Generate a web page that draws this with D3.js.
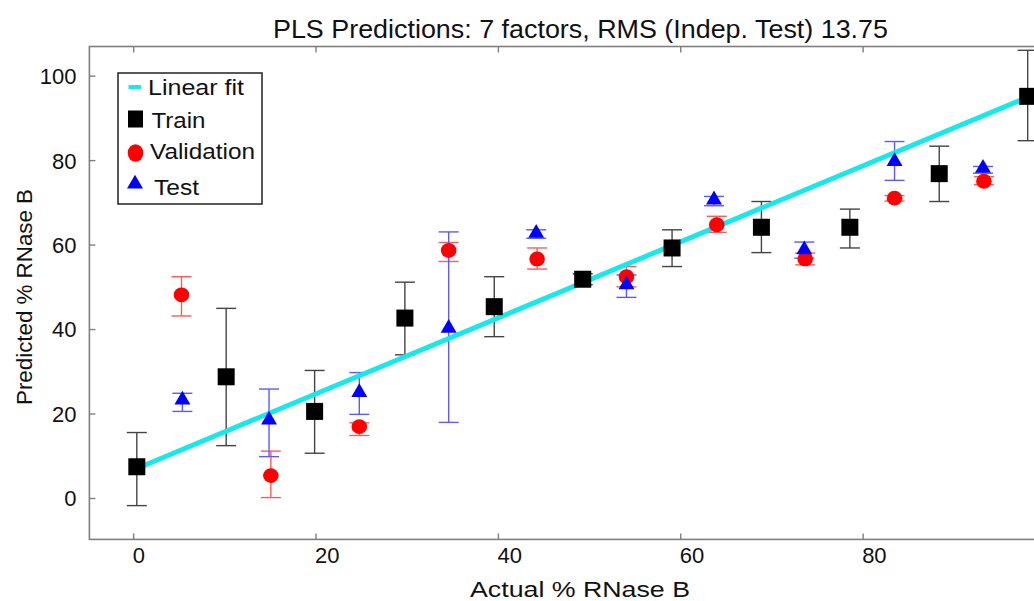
<!DOCTYPE html>
<html>
<head>
<meta charset="utf-8">
<script src="https://cdn.jsdelivr.net/npm/d3@7"></script>
<style>
  html, body { margin: 0; padding: 0; background: #fff; overflow: hidden; }
  svg { display: block; font-family: "Liberation Sans", Arial, Helvetica, sans-serif; }
</style>
</head>
<body>
<svg id="chart" width="1034" height="601"></svg>
<script>
// ---- data ----
const titleText = "PLS Predictions: 7 factors, RMS (Indep. Test) 13.75";
const xLabelText = "Actual % RNase B";
const yLabelText = "Predicted % RNase B";
const xTicks = [0, 20, 40, 60, 80];
const yTicks = [0, 20, 40, 60, 80, 100];

const trainX  = [0.4, 10.2, 19.9, 29.8, 39.6, 49.3, 59.1, 68.9, 78.6, 88.4, 98.1];
const trainY  = [7.4, 28.7, 20.5, 42.6, 45.3, 51.8, 59.2, 64.1, 64.1, 76.8, 95.1];
const trainLo = [-1.8, 12.4, 10.6, 33.9, 38.2, 50.5, 54.8, 58.1, 59.2, 70.2, 84.6];
const trainHi = [15.5, 44.9, 30.2, 51.1, 52.4, 53.1, 63.5, 70.2, 68.4, 83.3, 106.0];

const valX  = [5.3, 15.1, 24.8, 34.6, 44.3, 54.1, 64.0, 73.7, 83.5, 93.3];
const valY  = [48.1, 5.3, 16.9, 58.6, 56.6, 52.4, 64.7, 56.6, 71.0, 75.0];
const valLo = [43.1, 0.1, 14.8, 56.0, 54.2, 50.0, 62.9, 55.2, 70.3, 74.2];
const valHi = [52.4, 11.1, 17.8, 60.5, 59.2, 54.8, 66.7, 58.0, 71.6, 76.1];

const testX  = [5.4, 14.9, 24.8, 34.6, 44.2, 54.1, 63.7, 73.6, 83.5, 93.2];
const testY  = [23.2, 18.5, 25.0, 40.2, 62.7, 50.5, 70.6, 58.8, 79.7, 78.1];
const testLo = [20.5, 9.8, 19.8, 17.9, 61.5, 47.5, 69.2, 56.8, 75.2, 76.9];
const testHi = [24.8, 25.8, 29.7, 63.0, 63.5, 52.8, 71.4, 60.6, 84.4, 78.5];

const fitLineX = [0.4, 98.1];
const fitLineY = [7.0, 94.9];

const legendLabels = ["Linear fit", "Train", "Validation", "Test"];

// ---- layout ----
const svg = d3.select("#chart");
const x = d3.scaleLinear().domain([-4.8, 100]).range([89.4, 1045]);
const y = d3.scaleLinear().domain([-9.8, 106.9]).range([539.4, 46.5]);
const [x0, x1] = x.range();
const [yb, yt] = y.range();
const axisColor = "#7f7f7f";

const zip = (xs, ys, lo, hi) => xs.map((v, i) => ({x: v, y: ys[i], lo: lo[i], hi: hi[i]}));
const train = zip(trainX, trainY, trainLo, trainHi);
const val = zip(valX, valY, valLo, valHi);
const test = zip(testX, testY, testLo, testHi);

// axes box
const g = svg.append("g");
g.append("rect").attr("x", x0).attr("y", yt).attr("width", x1 - x0).attr("height", yb - yt)
  .attr("fill", "none").attr("stroke", axisColor).attr("stroke-width", 1.6);

// bottom axis (ticks inward)
const xAxis = d3.axisBottom(x).tickValues(xTicks).tickSize(-6).tickPadding(10).tickFormat(d3.format("d"));
const gx = g.append("g").attr("transform", `translate(0,${yb})`).call(xAxis);
gx.select(".domain").remove();
gx.selectAll(".tick line").attr("stroke", axisColor).attr("stroke-width", 1.4);
gx.selectAll(".tick text").attr("fill", "#111").attr("font-size", 22)
  .attr("text-anchor", "start").attr("x", -1).attr("y", 24).attr("dy", 0);

// top axis ticks
const xTop = d3.axisTop(x).tickValues(xTicks).tickSize(-6).tickFormat("");
const gxt = g.append("g").attr("transform", `translate(0,${yt})`).call(xTop);
gxt.select(".domain").remove();
gxt.selectAll(".tick line").attr("stroke", axisColor).attr("stroke-width", 1.4);

// left axis
const yAxis = d3.axisLeft(y).tickValues(yTicks).tickSize(-6).tickPadding(13).tickFormat(d3.format("d"));
const gy = g.append("g").attr("transform", `translate(${x0},0)`).call(yAxis);
gy.select(".domain").remove();
gy.selectAll(".tick line").attr("stroke", axisColor).attr("stroke-width", 1.4);
gy.selectAll(".tick text").attr("fill", "#111").attr("font-size", 22).attr("dy", "0.36em");

// right axis ticks
const yRight = d3.axisRight(y).tickValues(yTicks).tickSize(-6).tickFormat("");
const gyr = g.append("g").attr("transform", `translate(${x1},0)`).call(yRight);
gyr.select(".domain").remove();
gyr.selectAll(".tick line").attr("stroke", axisColor).attr("stroke-width", 1.4);

// title and labels
svg.append("text").attr("x", 273).attr("y", 37.5).attr("font-size", 25).attr("fill", "#111")
  .attr("textLength", 615).attr("lengthAdjust", "spacingAndGlyphs").text(titleText);
svg.append("text").attr("x", 470).attr("y", 596.5).attr("font-size", 22).attr("fill", "#111")
  .attr("textLength", 220).attr("lengthAdjust", "spacingAndGlyphs").text(xLabelText);
svg.append("text").attr("transform", "translate(32,405) rotate(-90)").attr("font-size", 22.5).attr("fill", "#111")
  .attr("textLength", 216).attr("lengthAdjust", "spacingAndGlyphs").text(yLabelText);

const plot = svg.append("g");

// error bars
function errorBars(data, color, width) {
  const eg = plot.append("g").attr("stroke", color).attr("stroke-width", width).attr("fill", "none");
  data.forEach(d => {
    const cx = x(d.x);
    eg.append("line").attr("x1", cx).attr("x2", cx).attr("y1", y(d.lo)).attr("y2", y(d.hi));
    eg.append("line").attr("x1", cx - 10).attr("x2", cx + 10).attr("y1", y(d.lo)).attr("y2", y(d.lo));
    eg.append("line").attr("x1", cx - 10).attr("x2", cx + 10).attr("y1", y(d.hi)).attr("y2", y(d.hi));
  });
}
errorBars(train, "#444", 1.4);
errorBars(val, "#ff5a5a", 1.4);
errorBars(test, "#5a5aff", 1.4);

// fit line
plot.append("line")
  .attr("x1", x(fitLineX[0])).attr("y1", y(fitLineY[0]))
  .attr("x2", x(fitLineX[1])).attr("y2", y(fitLineY[1]))
  .attr("stroke", "#18e8ea").attr("stroke-width", 5);

// markers
const sq = 17;
plot.append("g").selectAll("rect").data(train).join("rect")
  .attr("x", d => x(d.x) - sq / 2).attr("y", d => y(d.y) - sq / 2)
  .attr("width", sq).attr("height", sq).attr("fill", "#000");
plot.append("g").selectAll("ellipse").data(val).join("ellipse")
  .attr("cx", d => x(d.x)).attr("cy", d => y(d.y)).attr("rx", 7.8).attr("ry", 7.4).attr("fill", "#ff0000");
const tri = d3.symbol().type(d3.symbolTriangle).size(110);
plot.append("g").selectAll("path").data(test).join("path")
  .attr("transform", d => `translate(${x(d.x)},${y(d.y)})`).attr("d", tri).attr("fill", "#0000ff");

// legend
const lg = svg.append("g");
lg.append("rect").attr("x", 118).attr("y", 73).attr("width", 144).attr("height", 131)
  .attr("fill", "#fff").attr("stroke", "#222").attr("stroke-width", 1.5);
lg.append("line").attr("x1", 128.5).attr("x2", 141).attr("y1", 87).attr("y2", 87)
  .attr("stroke", "#18e8ea").attr("stroke-width", 4);
lg.append("rect").attr("x", 128).attr("y", 110.5).attr("width", 15).attr("height", 17).attr("fill", "#000");
lg.append("ellipse").attr("cx", 135.5).attr("cy", 153).attr("rx", 7.8).attr("ry", 8.8).attr("fill", "#ff0000");
lg.append("path").attr("transform", "translate(135,184)").attr("d", tri).attr("fill", "#0000ff");
const legendPos = [[148, 95, 96], [151.5, 127.5, 54], [150, 158.5, 105], [154, 194.5, 45]];
legendLabels.forEach((t, i) => {
  lg.append("text").attr("x", legendPos[i][0]).attr("y", legendPos[i][1])
    .attr("font-size", 22).attr("fill", "#111")
    .attr("textLength", legendPos[i][2]).attr("lengthAdjust", "spacingAndGlyphs").text(t);
});
</script>
</body>
</html>
